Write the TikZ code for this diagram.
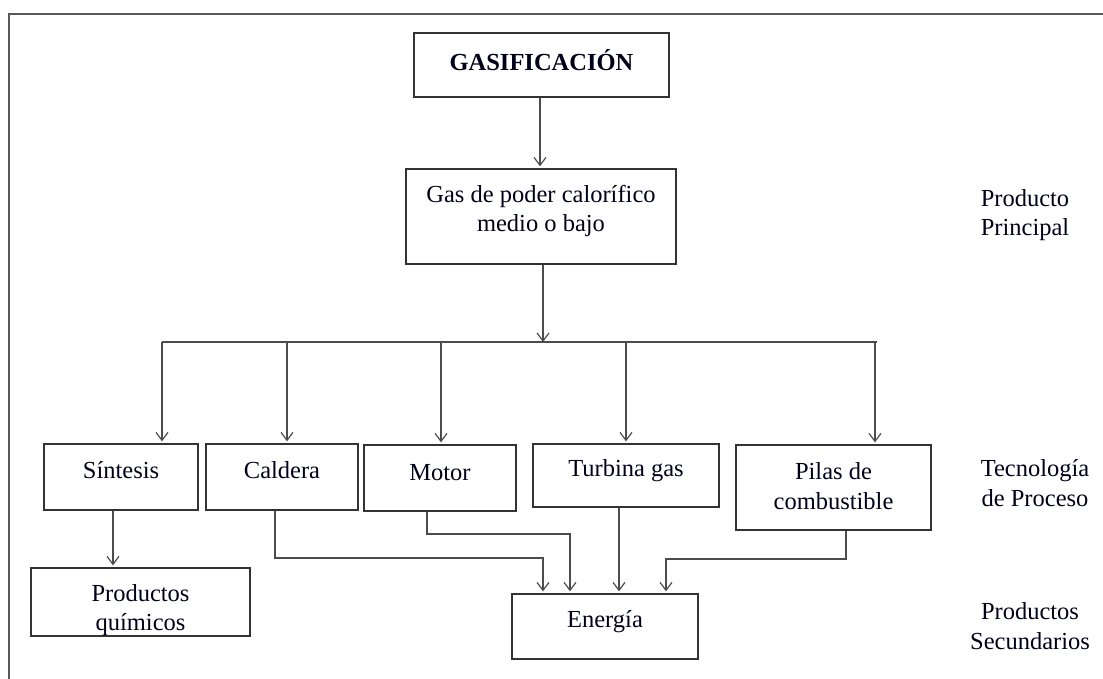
\documentclass[tikz,border=0pt]{standalone}
\usepackage{fontspec}
\setmainfont{Liberation Serif}
\usetikzlibrary{arrows.meta}
\begin{document}
\begin{tikzpicture}[x=1pt,y=-1pt,
  font=\fontsize{24.5}{29.5}\selectfont,
  box/.style={draw=black!80, line width=1.3pt, inner sep=0pt},
  lbl/.style={align=center, inner sep=0pt, text=black!90!blue},
  link/.style={draw=black!70, line width=1.2pt},
  arr/.style={link, -{Straight Barb[length=8pt,width=12pt,line width=1.2pt]}, shorten >=2pt},
  frame/.style={draw=black!65, line width=2pt}]
\useasboundingbox (0,0) rectangle (1103,679);

% page frame (top and left rules)
\draw[frame] (9,679) -- (9,14) -- (1110,14);

% boxes
\node[box, minimum width=255pt, minimum height=64pt] (gas0) at (541.5,65) {};
\node[box, minimum width=270pt, minimum height=95pt] (gas1) at (541,216.5) {};
\node[box, minimum width=154pt, minimum height=66pt] (sint) at (121,477) {};
\node[box, minimum width=152pt, minimum height=66pt] (cald) at (282,477) {};
\node[box, minimum width=152pt, minimum height=66pt] (motor) at (440,478) {};
\node[box, minimum width=186pt, minimum height=63pt] (turb) at (626,475.5) {};
\node[box, minimum width=195pt, minimum height=85pt] (pilas) at (833.5,487.5) {};
\node[box, minimum width=219pt, minimum height=68pt] (quim) at (140.5,602) {};
\node[box, minimum width=186pt, minimum height=65pt] (ener) at (605,626.5) {};

% box texts
\node[lbl] (t0) at (541.5,60) {\textbf{GASIFICACIÓN}};
\node[lbl] (t1) at (541,211) {Gas de poder calorífico\\medio o bajo};
\node[lbl] (t2) at (121,470) {Síntesis};
\node[lbl] (t3) at (282,470) {Caldera};
\node[lbl] (t4) at (440,473) {Motor};
\node[lbl] (t5) at (626,471) {Turbina gas};
\node[lbl] (t6) at (833.5,486) {Pilas de\\combustible};
\node[lbl] (t7) at (140.5,610) {Productos\\químicos};
\node[lbl] (t8) at (605,622) {Energía};

% level captions
\node[lbl] (c1) at (1025,215) {Producto\\Principal};
\node[lbl] (c2) at (1035,483) {Tecnología\\de Proceso};
\node[lbl] (c3) at (1030,626) {Productos\\Secundarios};

% main flow
\draw[arr] ([xshift=-1.5pt]gas0.south) -- ([xshift=-1.5pt]gas0.south |- gas1.north);

\coordinate (busL) at (162,342);
\coordinate (busR) at (877,342);
\draw[arr, shorten >=0pt] ([xshift=2pt]gas1.south) -- ([xshift=2pt]gas1.south |- busL);
\draw[link] (busL) -- (busR);

% drops from the distribution line
\coordinate (d1) at (162,342);
\coordinate (d2) at (287,342);
\coordinate (d3) at (441,342);
\coordinate (d4) at (626,342);
\coordinate (d5) at (875,342);
\draw[arr] (d1) -- (d1 |- sint.north);
\draw[arr] (d2) -- (d2 |- cald.north);
\draw[arr] (d3) -- (d3 |- motor.north);
\draw[arr] (d4) -- (d4 |- turb.north);
\draw[arr] (d5) -- (d5 |- pilas.north);

% secondary products
\draw[arr] ([xshift=-8pt]sint.south) -- ([xshift=-8pt]sint.south |- quim.north);

\coordinate (e1) at (543,558);
\coordinate (e2) at (570,534);
\coordinate (e4) at (666,559);
\draw[arr] ([xshift=-7pt]cald.south) |- (e1) -- (e1 |- ener.north);
\draw[arr] ([xshift=-13pt]motor.south) |- (e2) -- (e2 |- ener.north);
\draw[arr] ([xshift=-7pt]turb.south) -- ([xshift=-7pt]turb.south |- ener.north);
\draw[arr] ([xshift=12.5pt]pilas.south) |- (e4) -- (e4 |- ener.north);
\end{tikzpicture}
\end{document}
